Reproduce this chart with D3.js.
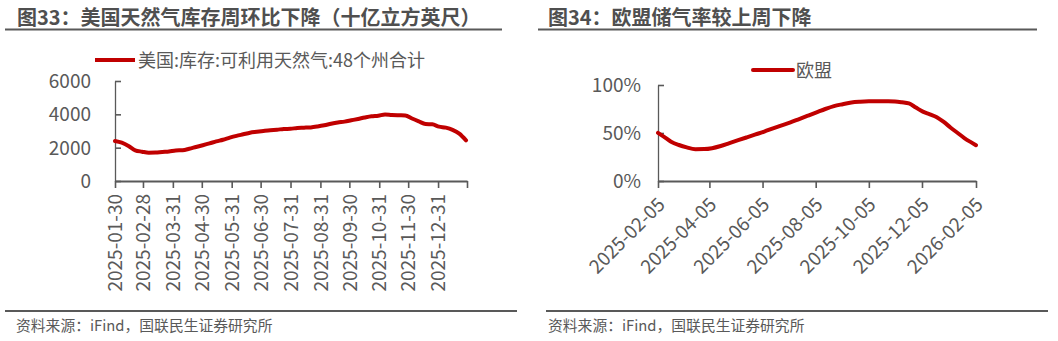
<!DOCTYPE html>
<html>
<head>
<meta charset="utf-8">
<script src="https://cdn.jsdelivr.net/npm/d3@7"></script>
<style>
  html, body { margin: 0; padding: 0; background: #fff; }
  svg { display: block; }
  text { font-family: "Noto Sans CJK SC", "Noto Sans", sans-serif; }
</style>
</head>
<body>
<svg id="chart" width="1058" height="341"></svg>
<script>
// ---- US working gas in storage, lower 48 (Bcf), weekly ----
const usStart = "2025-01-30";
const usValues = [
  2400, 2297, 2101, 1840, 1760, 1698, 1707, 1744, 1773, 1830,
  1846, 1934, 2041, 2145, 2255, 2375, 2476, 2598, 2707, 2802,
  2898, 2953, 3006, 3052, 3075, 3123, 3130, 3186, 3199, 3217,
  3272, 3343, 3433, 3508, 3561, 3641, 3721, 3808, 3882, 3915,
  3990, 3960, 3945, 3935, 3750, 3580, 3420, 3400, 3260, 3200,
  3070, 2840, 2440
];
const usTickLabels = [
  "2025-01-30", "2025-02-28", "2025-03-31", "2025-04-30", "2025-05-31", "2025-06-30",
  "2025-07-31", "2025-08-31", "2025-09-30", "2025-10-31", "2025-11-30", "2025-12-31"
];
const usYTicks = [0, 2000, 4000, 6000];

// ---- EU gas storage fill rate (%) ----
const euDates = [
  "2025-02-05", "2025-02-12", "2025-02-20", "2025-03-01", "2025-03-10", "2025-03-20",
  "2025-03-30", "2025-04-08", "2025-04-18", "2025-04-28", "2025-05-08", "2025-05-18",
  "2025-05-28", "2025-06-07", "2025-06-17", "2025-06-27", "2025-07-07", "2025-07-17",
  "2025-07-27", "2025-08-06", "2025-08-16", "2025-08-26", "2025-09-05", "2025-09-15",
  "2025-09-25", "2025-10-05", "2025-10-15", "2025-10-25", "2025-11-04", "2025-11-12",
  "2025-11-20", "2025-11-28", "2025-12-06", "2025-12-14", "2025-12-22", "2025-12-30",
  "2026-01-07", "2026-01-15", "2026-01-23", "2026-01-31", "2026-02-05"
];
const euValues = [
  50.2, 46.0, 41.0, 37.5, 35.0, 33.2,
  33.3, 34.2, 36.5, 39.5, 42.5, 45.5,
  48.5, 51.5, 54.8, 58.0, 61.0, 64.5,
  68.0, 71.5, 75.0, 78.0, 80.0, 81.8,
  82.6, 83.0, 83.1, 83.0, 82.8, 82.0,
  80.8, 76.5, 72.3, 69.5, 66.5, 61.5,
  55.5, 50.0, 44.5, 40.0, 37.3
];
const euTickLabels = [
  "2025-02-05", "2025-04-05", "2025-06-05", "2025-08-05",
  "2025-10-05", "2025-12-05", "2026-02-05"
];
const euYTicks = [0, 50, 100];

const parse = d3.utcParse("%Y-%m-%d");
const RED = "#c00000";
const GREY = "#595959";
const svg = d3.select("#chart");

// panel header: bold title with rule beneath
function header(x0, x1, tx, label) {
  svg.append("text").attr("x", tx).attr("y", 24.5)
    .attr("font-size", 20).attr("font-weight", "bold").attr("fill", "#4f4f4f")
    .text(label);
  svg.append("line").attr("x1", x0).attr("x2", x1).attr("y1", 29.5).attr("y2", 29.5)
    .attr("stroke", GREY).attr("stroke-width", 2);
}
// panel footer: rule and source note
function footer(x0, x1, tx) {
  svg.append("line").attr("x1", x0).attr("x2", x1).attr("y1", 311).attr("y2", 311)
    .attr("stroke", GREY).attr("stroke-width", 2);
  svg.append("text").attr("x", tx).attr("y", 331)
    .attr("font-size", 14.8).attr("fill", GREY)
    .text("资料来源：iFind，国联民生证券研究所");
}

function styleAxis(g, width) {
  g.select(".domain").attr("stroke", GREY).attr("stroke-width", width);
  g.selectAll(".tick line").attr("stroke", GREY).attr("stroke-width", 1.6);
  g.selectAll(".tick text").attr("fill", GREY).attr("font-size", 19)
    .attr("font-family", "'Noto Sans CJK SC', sans-serif");
}

// ===== Left panel: US storage =====
header(5, 502, 17, "图33：美国天然气库存周环比下降（十亿立方英尺）");

const usDates = usValues.map((_, i) => d3.utcDay.offset(parse(usStart), 7 * i));
const xUS = d3.scaleUtc().domain([parse("2025-01-30"), parse("2026-01-30")]).range([115, 467]);
const yUS = d3.scaleLinear().domain([0, 6000]).range([181, 81]);

const usTickDates = usTickLabels.map(parse).concat([parse("2026-01-30")]);
const gxUS = svg.append("g").attr("transform", "translate(0,181)")
  .call(d3.axisBottom(xUS).tickValues(usTickDates).tickSize(7).tickSizeOuter(0)
    .tickFormat((d, i) => i < usTickLabels.length ? usTickLabels[i] : ""));
styleAxis(gxUS, 2);
gxUS.selectAll(".tick text")
  .attr("text-anchor", "end").attr("dy", "0.35em").attr("dx", 0).attr("y", 0)
  .attr("transform", "translate(0,13) rotate(-90)");

const gyUS = svg.append("g").attr("transform", "translate(115,0)")
  .call(d3.axisRight(yUS).tickValues(usYTicks).tickSize(6).tickSizeOuter(0).tickFormat(d3.format("d")));
styleAxis(gyUS, 1.3);
gyUS.selectAll(".tick text").attr("x", -24).attr("text-anchor", "end").attr("dy", "0.34em");

svg.append("path")
  .datum(usValues.map((v, i) => [usDates[i], v]))
  .attr("fill", "none").attr("stroke", RED).attr("stroke-width", 4)
  .attr("stroke-linejoin", "round").attr("stroke-linecap", "round")
  .attr("d", d3.line().x(d => xUS(d[0])).y(d => yUS(d[1])).curve(d3.curveMonotoneX));

svg.append("line").attr("x1", 95).attr("x2", 135).attr("y1", 60).attr("y2", 60)
  .attr("stroke", RED).attr("stroke-width", 4);
svg.append("text").attr("x", 138).attr("y", 66.5).attr("font-size", 18).attr("fill", GREY)
  .text("美国:库存:可利用天然气:48个州合计");

footer(5, 517, 16);

// ===== Right panel: EU storage =====
header(538, 1037, 548, "图34：欧盟储气率较上周下降");

const xEU = d3.scaleUtc().domain([parse("2025-02-05"), parse("2026-02-05")]).range([658, 976]);
const yEU = d3.scaleLinear().domain([0, 100]).range([181, 85]);

const gxEU = svg.append("g").attr("transform", "translate(0,181)")
  .call(d3.axisBottom(xEU).tickValues(euTickLabels.map(parse)).tickSize(7).tickSizeOuter(0)
    .tickFormat((d, i) => euTickLabels[i]));
styleAxis(gxEU, 2);
gxEU.selectAll(".tick text")
  .attr("text-anchor", "end").attr("dy", "0.35em").attr("y", 0)
  .attr("transform", "translate(3,20) rotate(-45)");

const gyEU = svg.append("g").attr("transform", "translate(658,0)")
  .call(d3.axisRight(yEU).tickValues(euYTicks).tickSize(6).tickSizeOuter(0).tickFormat(d => d + "%"));
styleAxis(gyEU, 1.3);
gyEU.selectAll(".tick text").attr("x", -17).attr("text-anchor", "end").attr("dy", "0.34em");

svg.append("path")
  .datum(euValues.map((v, i) => [parse(euDates[i]), v]))
  .attr("fill", "none").attr("stroke", RED).attr("stroke-width", 4)
  .attr("stroke-linejoin", "round").attr("stroke-linecap", "round")
  .attr("d", d3.line().x(d => xEU(d[0])).y(d => yEU(d[1])).curve(d3.curveMonotoneX));

svg.append("line").attr("x1", 753).attr("x2", 793).attr("y1", 70).attr("y2", 70)
  .attr("stroke", RED).attr("stroke-width", 4).attr("stroke-linecap", "round");
svg.append("text").attr("x", 796).attr("y", 76.5).attr("font-size", 18).attr("fill", GREY)
  .text("欧盟");

footer(546, 1048, 548);
</script>
</body>
</html>
